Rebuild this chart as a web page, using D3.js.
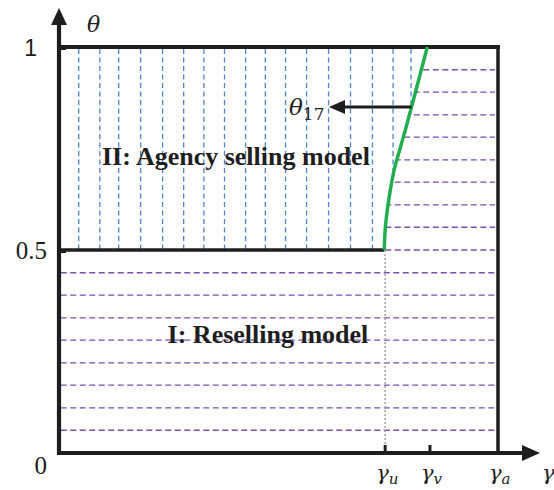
<!DOCTYPE html>
<html><head><meta charset="utf-8">
<script src="https://cdn.jsdelivr.net/npm/d3@7"></script>
<style>html,body{margin:0;padding:0;background:#fff}svg{display:block}</style>
</head><body><svg id="c" width="554" height="490"></svg>
<script>
// ---- data ----
const yTickValues = [0, 0.5, 1];
const yTickLabels = ["0", "0.5", "1"];
const gammaTickValues = [0.743, 0.845, 1.0];
const gammaTickNames = ["γ", "γ", "γ"];
const gammaTickSubs = ["u", "v", "a"];
const boundaryTheta = [0.5, 0.55, 0.6, 0.65, 0.70, 0.75, 0.80, 0.852, 0.93, 1.0];
const boundaryGamma = [0.741, 0.743, 0.748, 0.755, 0.764, 0.777, 0.790, 0.803, 0.822, 0.839];
const hatchGamma = [0.045, 0.093, 0.136, 0.186, 0.236, 0.284, 0.330, 0.377, 0.425, 0.470, 0.516, 0.564, 0.614, 0.664, 0.714, 0.761, 0.802];
const hatchTheta = [0.056, 0.111, 0.167, 0.222, 0.278, 0.333, 0.389, 0.444, 0.5, 0.556, 0.611, 0.667, 0.722, 0.778, 0.833, 0.889, 0.944];
const regionLabels = ["II: Agency selling model", "I: Reselling model"];
const regionLabelGamma = [0.403, 0.476];
const regionLabelTheta = [0.71, 0.272];
const theta17 = 0.852, theta17ArrowEnd = 0.615;

// ---- scales ----
const svg = d3.select("#c");
const x = d3.scaleLinear().domain([0, 1]).range([59, 498]);
const y = d3.scaleLinear().domain([0, 1]).range([453, 47]);
const gU = gammaTickValues[0];

const boundary = boundaryTheta.map((t, i) => [boundaryGamma[i], t]);
const bLine = d3.line().x(d => x(d[0])).y(d => y(d[1])).curve(d3.curveMonotoneY);

const defs = svg.append("defs");
const revB = boundary.slice().reverse();
defs.append("clipPath").attr("id", "clipII").append("path")
  .attr("d", `M${x(0)},${y(0.5)}L${x(0)},${y(1)}` + "L" + bLine(revB).slice(1) + "Z");
defs.append("clipPath").attr("id", "clipIII").append("path")
  .attr("d", bLine(boundary) + `L${x(1)},${y(1)}L${x(1)},${y(0.49)}L${x(boundaryGamma[0])},${y(0.49)}Z`);

// ---- hatching ----
svg.append("g").attr("clip-path", "url(#clipII)")
  .selectAll("line").data(hatchGamma).join("line")
  .attr("x1", d => x(d)).attr("x2", d => x(d))
  .attr("y1", y(1) + 2).attr("y2", y(0.5))
  .attr("stroke", "#4f82cf").attr("stroke-width", 1.3).attr("stroke-dasharray", "5,3.5");

const purple = "#7a4fae";
svg.append("g").selectAll("line").data(hatchTheta.filter(t => t < 0.5)).join("line")
  .attr("x1", x(0.004)).attr("x2", x(0.996))
  .attr("y1", d => y(d)).attr("y2", d => y(d))
  .attr("stroke", purple).attr("stroke-width", 1.3).attr("stroke-dasharray", "6,3.5");
svg.append("g").attr("clip-path", "url(#clipIII)")
  .selectAll("line").data(hatchTheta.filter(t => t >= 0.5)).join("line")
  .attr("x1", x(0.7)).attr("x2", x(0.993))
  .attr("y1", d => y(d)).attr("y2", d => y(d))
  .attr("stroke", purple).attr("stroke-width", 1.3).attr("stroke-dasharray", "6,3.5");

svg.append("line").attr("x1", x(gU)).attr("x2", x(gU)).attr("y1", y(0.5)).attr("y2", y(0))
  .attr("stroke", "#a8a8a8").attr("stroke-width", 1.6).attr("stroke-dasharray", "2,2");

// ---- borders ----
const black = "#1e1e1e";
svg.append("line").attr("x1", x(0)).attr("x2", x(1) + 2).attr("y1", y(1)).attr("y2", y(1))
  .attr("stroke", black).attr("stroke-width", 4);
svg.append("line").attr("x1", x(1)).attr("x2", x(1)).attr("y1", y(1)).attr("y2", y(0))
  .attr("stroke", black).attr("stroke-width", 3.5);
svg.append("line").attr("x1", x(0)).attr("x2", x(boundaryGamma[0])).attr("y1", y(0.5)).attr("y2", y(0.5))
  .attr("stroke", black).attr("stroke-width", 3.5);

// ---- boundary curve ----
svg.append("path").attr("d", bLine(boundary)).attr("fill", "none")
  .attr("stroke", "#22ad4e").attr("stroke-width", 3.5);

// ---- axes ----
svg.append("line").attr("x1", x(0)).attr("x2", x(0)).attr("y1", y(0) + 2).attr("y2", 22)
  .attr("stroke", black).attr("stroke-width", 4.2);
svg.append("path").attr("d", `M${x(0)},8L${x(0) - 8},25L${x(0) + 8},25Z`).attr("fill", black);
svg.append("line").attr("x1", x(0) - 2).attr("x2", 525).attr("y1", y(0)).attr("y2", y(0))
  .attr("stroke", black).attr("stroke-width", 4.2);
svg.append("path").attr("d", `M540,${y(0)}L522,${y(0) - 8}L522,${y(0) + 8}Z`).attr("fill", black);

svg.append("g").selectAll("line").data(gammaTickValues.slice(0, 2)).join("line")
  .attr("x1", d => x(d)).attr("x2", d => x(d)).attr("y1", y(0)).attr("y2", y(0) - 8)
  .attr("stroke", black).attr("stroke-width", 3);
svg.append("g").selectAll("line").data(yTickValues.slice(1)).join("line")
  .attr("x1", x(0)).attr("x2", x(0) + 7).attr("y1", d => y(d) + 2).attr("y2", d => y(d) + 2)
  .attr("stroke", black).attr("stroke-width", 2);

// y tick labels
const yLabelRight = [47, 47, 37];
svg.append("g").selectAll("text").data(yTickValues).join("text")
  .attr("x", (d, i) => yLabelRight[i]).attr("y", d => y(d) + (d === 0 ? 21 : 9))
  .attr("text-anchor", "end")
  .attr("font-family", (d, i) => i === 2 ? "Liberation Sans, sans-serif" : "Liberation Serif, serif")
  .attr("font-size", (d, i) => i === 2 ? 23 : 25)
  .attr("fill", black)
  .text((d, i) => yTickLabels[i]);

// gamma labels
const gl = svg.append("g").selectAll("text").data(gammaTickValues).join("text")
  .attr("x", d => x(d) - 9).attr("y", 480)
  .attr("font-family", "DejaVu Serif, serif").attr("font-style", "italic")
  .attr("font-size", 21).attr("fill", black);
gl.append("tspan").text((d, i) => gammaTickNames[i]);
gl.append("tspan").attr("dy", 4).attr("font-size", 15).text((d, i) => gammaTickSubs[i]);

svg.append("text").attr("x", 542).attr("y", 480)
  .attr("font-family", "DejaVu Serif, serif").attr("font-style", "italic")
  .attr("font-size", 21).attr("fill", black).text("γ");
svg.append("text").attr("x", 87).attr("y", 32)
  .attr("font-family", "DejaVu Serif, serif").attr("font-style", "italic")
  .attr("font-size", 22).attr("fill", black).text("θ");

// theta_17 annotation
const xArrowStart = x(d3.scaleLinear().domain(boundaryTheta).range(boundaryGamma)(theta17));
svg.append("line").attr("x1", xArrowStart).attr("x2", x(theta17ArrowEnd) + 12)
  .attr("y1", y(theta17)).attr("y2", y(theta17))
  .attr("stroke", black).attr("stroke-width", 3);
svg.append("path")
  .attr("d", `M${x(theta17ArrowEnd)},${y(theta17)}L${x(theta17ArrowEnd) + 16},${y(theta17) - 7}L${x(theta17ArrowEnd) + 16},${y(theta17) + 7}Z`)
  .attr("fill", black);
const t17 = svg.append("text").attr("x", 289).attr("y", 115)
  .attr("font-family", "DejaVu Serif, serif").attr("font-style", "italic")
  .attr("font-size", 23).attr("fill", black);
t17.append("tspan").text("θ");
t17.append("tspan").attr("dy", 5).attr("font-size", 17).attr("font-style", "normal").text("17");

// region labels
svg.append("g").selectAll("text").data(regionLabels).join("text")
  .attr("x", (d, i) => x(regionLabelGamma[i])).attr("y", (d, i) => y(regionLabelTheta[i]))
  .attr("text-anchor", "middle")
  .attr("font-family", "Liberation Serif, Times New Roman, serif").attr("font-weight", "bold")
  .attr("font-size", 26).attr("fill", black)
  .text(d => d);
</script></body></html>
